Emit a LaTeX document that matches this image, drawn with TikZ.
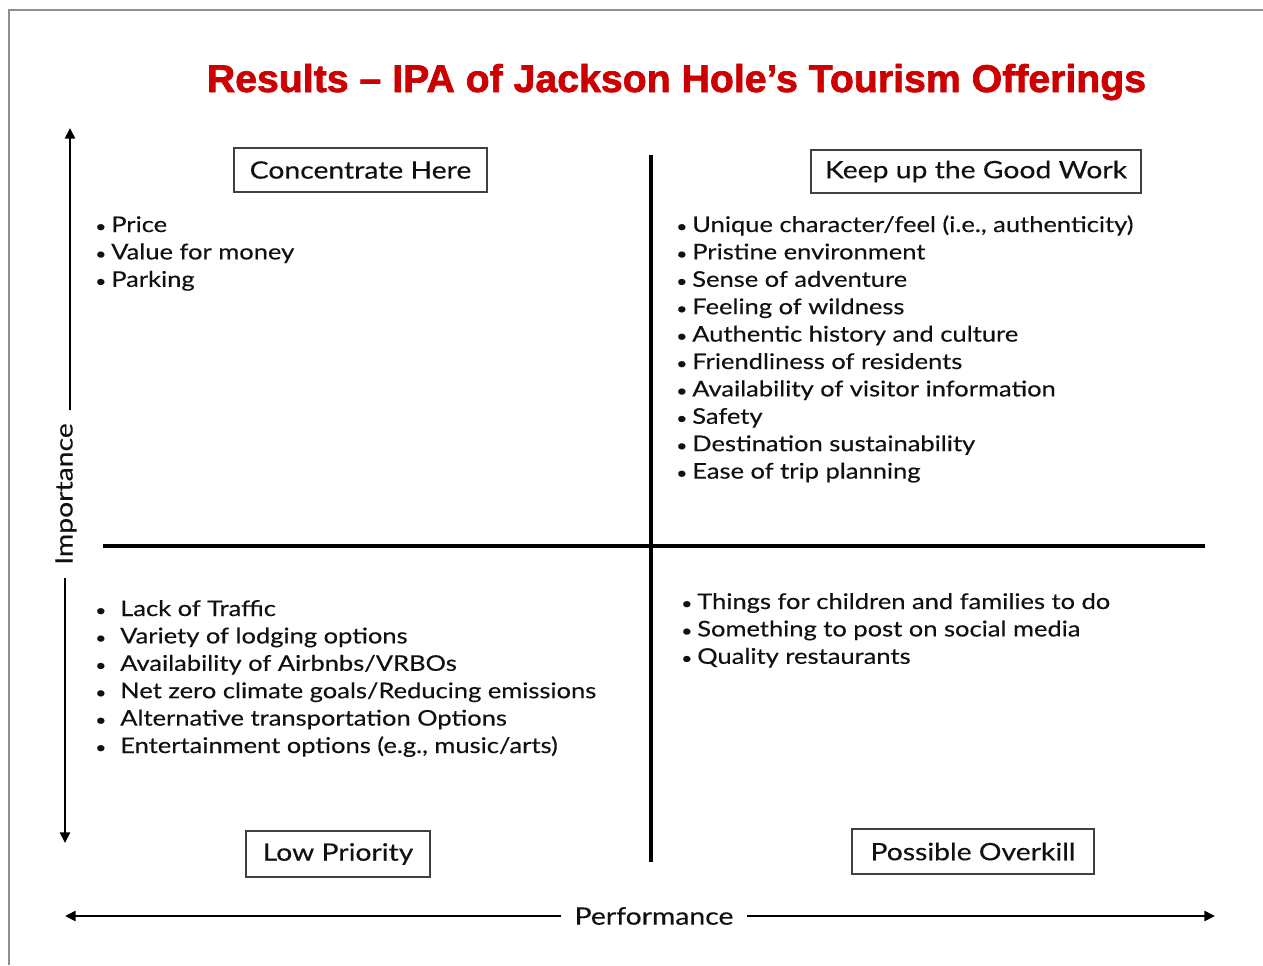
\documentclass[tikz,border=0pt]{standalone}
\usepackage{fontspec}
\setmainfont{Lato}[FakeStretch=1.18,FakeBold=0.3]
\newfontfamily\titlefont{Liberation Sans}[BoldFeatures={FakeStretch=1.015,FakeBold=1.8}]
\usetikzlibrary{arrows.meta}
\definecolor{titlered}{HTML}{CC0000}
\definecolor{framegray}{HTML}{8C8C9A}
\definecolor{boxgray}{HTML}{404040}
\definecolor{ink}{HTML}{111111}
\newlength{\bulgap}
\newcommand{\itm}[1]{\makebox[\bulgap][l]{\scalebox{0.75}{\textbullet}}#1}
\begin{document}
\begin{tikzpicture}[x=0.75pt,y=-0.75pt,
  quadlabel/.style={draw=boxgray, line width=1.1pt, inner sep=0pt, font=\fontsize{18}{22}\selectfont, text=ink},
  divider/.style={line width=3pt, black},
  axis/.style={line width=2pt, black, -{Triangle[length=8pt,width=7.5pt]}},
  axislabel/.style={font=\fontsize{18}{22}\selectfont, text=ink, inner xsep=10pt, inner ysep=0pt},
  itemlist/.style={anchor=base west, inner sep=0pt, text=ink, font=\fontsize{16.2}{20.55}\selectfont}
]
\useasboundingbox (0,0) rectangle (1263,965);
% slide frame
\draw[framegray, line width=1.2pt] (9,965) -- (9,10) -- (1263,10);

% title
\node[anchor=base, text=titlered, font=\titlefont\bfseries\fontsize{29}{33}\selectfont, inner sep=0pt]
  (title) at (676.5,92) {Results – IPA of Jackson Hole’s Tourism Offerings};

% quadrant dividers
\coordinate (vtop) at (651,155);
\coordinate (vbot) at (651,862);
\coordinate (hleft) at (103,546);
\coordinate (hright) at (1205,546);
\draw[divider] (vtop) -- (vbot);
\draw[divider] (hleft) -- (hright);

% quadrant headings
\node[quadlabel, minimum width=189.75pt, minimum height=33pt] (conc) at (360.5,170) {Concentrate Here};
\node[quadlabel, minimum width=247.5pt, minimum height=32.25pt] (keep) at (976,171.5) {Keep up the Good Work};
\node[quadlabel, minimum width=138pt, minimum height=34.5pt] (low) at (338,854) {Low Priority};
\node[quadlabel, minimum width=181.5pt, minimum height=33.75pt] (over) at (973,851.5) {Possible Overkill};

% importance axis
\node[axislabel, rotate=90] (imp) at (66,494) {Importance};
\coordinate (impTop) at (70,128);
\coordinate (impBot) at (65,843);
\draw[axis] (imp.east -| impTop) -- (impTop);
\draw[axis] (imp.west -| impBot) -- (impBot);

% performance axis
\node[axislabel] (perf) at (654,916) {Performance};
\coordinate (perfL) at (65,916);
\coordinate (perfR) at (1215,916);
\draw[axis] (perf.west) -- (perfL);
\draw[axis] (perf.east) -- (perfR);

% quadrant contents
\setlength{\bulgap}{12pt}
\node[itemlist] (ulist) at (95,232) {\begin{tabular}[t]{@{}l@{}}
\itm{Price}\\
\itm{Value for money}\\
\itm{Parking}
\end{tabular}};

\node[itemlist] (rlist) at (676,232) {\begin{tabular}[t]{@{}l@{}}
\itm{Unique character/feel (i.e., authenticity)}\\
\itm{Pristine environment}\\
\itm{Sense of adventure}\\
\itm{Feeling of wildness}\\
\itm{Authentic history and culture}\\
\itm{Friendliness of residents}\\
\itm{Availability of visitor information}\\
\itm{Safety}\\
\itm{Destination sustainability}\\
\itm{Ease of trip planning}
\end{tabular}};

\node[itemlist] (lrlist) at (681,609) {\begin{tabular}[t]{@{}l@{}}
\itm{Things for children and families to do}\\
\itm{Something to post on social media}\\
\itm{Quality restaurants}
\end{tabular}};

\setlength{\bulgap}{18.75pt}
\node[itemlist] (lllist) at (95,616) {\begin{tabular}[t]{@{}l@{}}
\itm{Lack of Traffic}\\
\itm{Variety of lodging options}\\
\itm{Availability of Airbnbs/VRBOs}\\
\itm{Net zero climate goals/Reducing emissions}\\
\itm{Alternative transportation Options}\\
\itm{Entertainment options (e.g., music/arts)}
\end{tabular}};
\end{tikzpicture}
\end{document}
